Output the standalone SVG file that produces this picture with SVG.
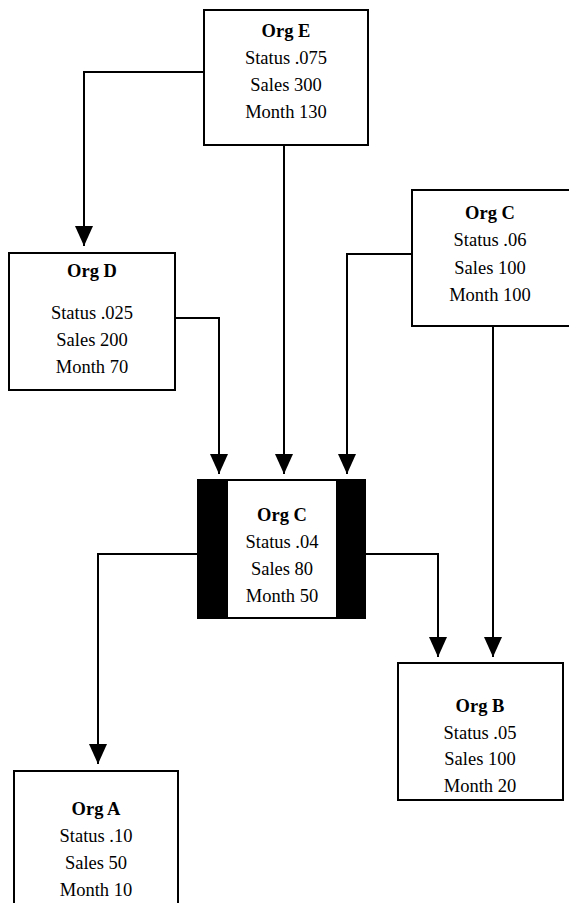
<svg xmlns="http://www.w3.org/2000/svg" width="569" height="903" viewBox="0 0 569 903">
<style>
.box{fill:#fff;stroke:#000;stroke-width:2}
.bar{fill:#000}
.t{font-family:"Liberation Serif","Times New Roman",serif;font-size:18.5px;fill:#000;text-anchor:middle}
.b{font-weight:bold}
.c{fill:none;stroke:#000;stroke-width:2}
</style>
<defs>
<marker id="arr" viewBox="0 0 20 18" refX="20" refY="9" markerWidth="20" markerHeight="18" markerUnits="userSpaceOnUse" orient="auto">
<path d="M0,0 L20,9 L0,18 z" fill="#000"/>
</marker>
</defs>
<rect width="569" height="903" fill="#fff"/>
<g id="connectors">
<path class="c" d="M204,72 H84 V246" marker-end="url(#arr)"/>
<path class="c" d="M284,145 V474" marker-end="url(#arr)"/>
<path class="c" d="M175,318 H219 V474" marker-end="url(#arr)"/>
<path class="c" d="M412,254 H347 V474" marker-end="url(#arr)"/>
<path class="c" d="M198,554 H98 V764" marker-end="url(#arr)"/>
<path class="c" d="M365,554 H438 V657" marker-end="url(#arr)"/>
<path class="c" d="M493,326 V657" marker-end="url(#arr)"/>
</g>
<g id="orgE">
<rect class="box" x="204" y="10" width="164" height="135"/>
<text class="t b" x="286" y="37">Org E</text>
<text class="t" x="286" y="64">Status .075</text>
<text class="t" x="286" y="91">Sales 300</text>
<text class="t" x="286" y="118">Month 130</text>
</g>
<g id="orgD">
<rect class="box" x="9" y="253" width="166" height="137"/>
<text class="t b" x="92" y="277">Org D</text>
<text class="t" x="92" y="319">Status .025</text>
<text class="t" x="92" y="346">Sales 200</text>
<text class="t" x="92" y="373">Month 70</text>
</g>
<g id="orgC1">
<rect class="box" x="412" y="190" width="170" height="136"/>
<text class="t b" x="490" y="219">Org C</text>
<text class="t" x="490" y="246">Status .06</text>
<text class="t" x="490" y="274">Sales 100</text>
<text class="t" x="490" y="301">Month 100</text>
</g>
<g id="orgC2">
<rect class="box" x="198" y="480" width="167" height="138"/>
<rect class="bar" x="198" y="480" width="30" height="138"/>
<rect class="bar" x="336" y="480" width="29" height="138"/>
<text class="t b" x="282" y="521">Org C</text>
<text class="t" x="282" y="548">Status .04</text>
<text class="t" x="282" y="575">Sales 80</text>
<text class="t" x="282" y="602">Month 50</text>
</g>
<g id="orgB">
<rect class="box" x="398" y="663" width="165" height="137"/>
<text class="t b" x="480" y="712">Org B</text>
<text class="t" x="480" y="739">Status .05</text>
<text class="t" x="480" y="765">Sales 100</text>
<text class="t" x="480" y="792">Month 20</text>
</g>
<g id="orgA">
<rect class="box" x="14" y="771" width="164" height="150"/>
<text class="t b" x="96" y="815">Org A</text>
<text class="t" x="96" y="842">Status .10</text>
<text class="t" x="96" y="869">Sales 50</text>
<text class="t" x="96" y="896">Month 10</text>
</g>
</svg>
